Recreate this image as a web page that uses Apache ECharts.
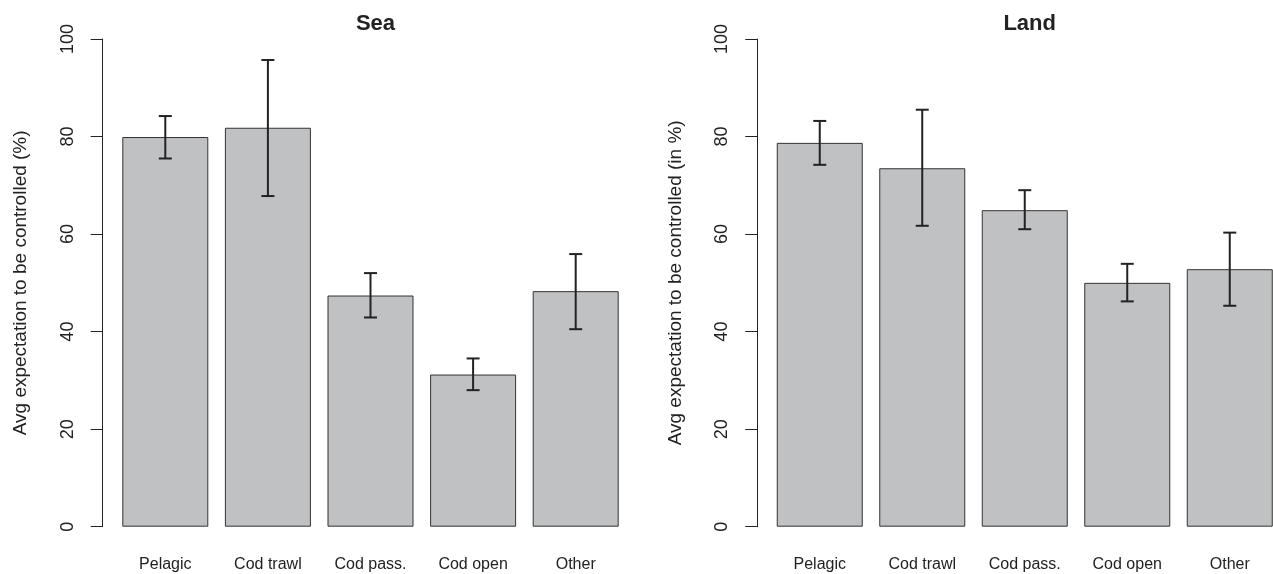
<!DOCTYPE html>
<html>
<head>
<meta charset="utf-8">
<script src="https://cdn.jsdelivr.net/npm/echarts@6/dist/echarts.min.js"></script>
<style>
html,body{margin:0;padding:0;background:#fff;overflow:hidden;width:1273px;height:574px;}
#chart{width:1300px;height:574px;}
</style>
</head>
<body>
<div id="chart"></div>
<script>
var categories = ['Pelagic', 'Cod trawl', 'Cod pass.', 'Cod open', 'Other'];
var seaMeans = [79.9, 81.8, 47.4, 31.2, 48.3];
var seaLow   = [75.5, 67.8, 42.9, 28.0, 40.5];
var seaHigh  = [84.2, 95.7, 52.0, 34.5, 55.9];
var landMeans = [78.7, 73.5, 64.9, 50.0, 52.8];
var landLow   = [74.2, 61.7, 61.0, 46.2, 45.3];
var landHigh  = [83.2, 85.5, 69.0, 53.9, 60.3];
var yMin = 0, yMax = 100, yInterval = 20;
var titles = ['Sea', 'Land'];
var yNames = ['Avg expectation to be controlled (%)', 'Avg expectation to be controlled (in %)'];

var FONT = '"Liberation Sans", Arial, Helvetica, sans-serif';
var INK = '#222';

function errData(low, high) {
  return categories.map(function (c, i) { return [i, low[i], high[i]]; });
}

function renderErr(params, api) {
  var x = api.value(0);
  var lo = api.coord([x, api.value(1)]);
  var hi = api.coord([x, api.value(2)]);
  var hw = 6.5;
  var style = { stroke: INK, lineWidth: 2, fill: null };
  return {
    type: 'group',
    children: [
      { type: 'line', shape: { x1: lo[0], y1: lo[1], x2: hi[0], y2: hi[1] }, style: style },
      { type: 'line', shape: { x1: lo[0] - hw, y1: lo[1], x2: lo[0] + hw, y2: lo[1] }, style: style },
      { type: 'line', shape: { x1: hi[0] - hw, y1: hi[1], x2: hi[0] + hw, y2: hi[1] }, style: style }
    ]
  };
}

var grids = [
  { left: 114, width: 513, top: 39, bottom: 47.3 },
  { left: 768.5, width: 512.5, top: 39, bottom: 47.3 }
];
var axisLineX = [102.7, 757.3];
var titleX = [370.5, 1024.7];

function yAxis(i) {
  return {
    type: 'value', gridIndex: i, min: yMin, max: yMax, interval: yInterval,
    offset: grids[i].left - axisLineX[i],
    name: yNames[i], nameLocation: 'middle', nameGap: 72, nameRotate: 90,
    nameTextStyle: { fontFamily: FONT, fontSize: 19, color: INK },
    axisLine: { show: true, lineStyle: { color: INK, width: 1 } },
    axisTick: { show: true, length: 12, lineStyle: { color: INK, width: 1 } },
    axisLabel: { rotate: 90, margin: 26, fontFamily: FONT, fontSize: 18, color: INK },
    splitLine: { show: false }
  };
}
function xAxis(i) {
  return {
    type: 'category', gridIndex: i, data: categories,
    axisLine: { show: false }, axisTick: { show: false },
    axisLabel: { margin: 30, fontFamily: FONT, fontSize: 16, color: INK, interval: 0 }
  };
}

var option = {
  animation: false,
  backgroundColor: '#ffffff',
  title: titles.map(function (t, i) {
    return { text: t, left: titleX[i], top: 8, textAlign: 'center',
      textStyle: { fontFamily: FONT, fontSize: 22, fontWeight: 'bold', color: INK } };
  }),
  grid: grids,
  xAxis: [xAxis(0), xAxis(1)],
  yAxis: [yAxis(0), yAxis(1)],
  series: [
    { type: 'bar', xAxisIndex: 0, yAxisIndex: 0, data: seaMeans, barWidth: 86,
      itemStyle: { color: '#c0c1c3', borderColor: '#333', borderWidth: 1 } },
    { type: 'custom', xAxisIndex: 0, yAxisIndex: 0, data: errData(seaLow, seaHigh), renderItem: renderErr, z: 5 },
    { type: 'bar', xAxisIndex: 1, yAxisIndex: 1, data: landMeans, barWidth: 86,
      itemStyle: { color: '#c0c1c3', borderColor: '#333', borderWidth: 1 } },
    { type: 'custom', xAxisIndex: 1, yAxisIndex: 1, data: errData(landLow, landHigh), renderItem: renderErr, z: 5 }
  ]
};

var chart = echarts.init(document.getElementById('chart'));
chart.setOption(option);
</script>
</body>
</html>
